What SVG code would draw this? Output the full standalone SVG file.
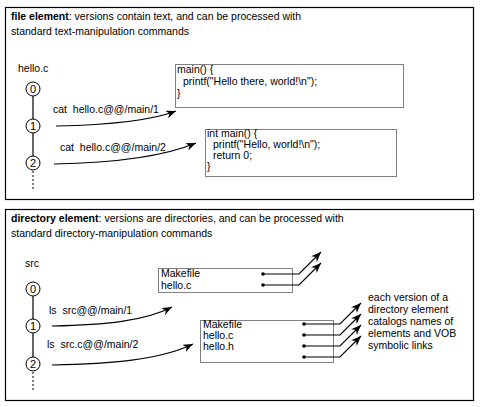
<svg xmlns="http://www.w3.org/2000/svg" width="480" height="407" viewBox="0 0 480 407">
<defs>
<marker id="ah" viewBox="0 0 10 8" refX="10" refY="4" markerWidth="10" markerHeight="8" markerUnits="userSpaceOnUse" orient="auto">
<path d="M0,0 L10,4 L0,8 L3,4 Z" fill="#000"/>
</marker>
</defs>
<style>
text{font-family:"Liberation Sans",Arial,sans-serif;font-size:10.5px;fill:#000}
.hd{font-size:10.5px}
.b{font-weight:bold}
.code{font-size:10.5px}
.panel{fill:#fff;stroke:#000;stroke-width:1.2}
.box{fill:none;stroke:#000;stroke-width:1;stroke-dasharray:1 1}
.ver{fill:#fff;stroke:#000;stroke-width:1}
.ln{fill:none;stroke:#000;stroke-width:1.2}
.arr{fill:none;stroke:#000;stroke-width:1.2;marker-end:url(#ah)}
.dot{fill:none;stroke:#000;stroke-width:1;stroke-dasharray:2 2}
.vt{font-size:11px;text-anchor:middle}
</style>
<rect width="480" height="407" fill="#fff"/>
<g id="panel-file">
<rect class="panel" x="5.5" y="7.5" width="468" height="192"/>
<text class="hd" x="11" y="20"><tspan class="b">file element</tspan>: versions contain text, and can be processed with</text>
<text class="hd" x="11" y="35">standard text-manipulation commands</text>
<text x="18" y="72">hello.c</text>
</g>
<g id="panel-dir">
<rect class="panel" x="5.5" y="209.5" width="468" height="191"/>
<text class="hd" x="11" y="222"><tspan class="b">directory element</tspan>: versions are directories, and can be processed with</text>
<text class="hd" x="11" y="237">standard directory-manipulation commands</text>
<text x="25" y="267">src</text>
</g>
<g id="connectors">
<line class="ln" x1="33" y1="96" x2="33" y2="156"/>
<line class="dot" x1="33" y1="171" x2="33" y2="191"/>
<path class="arr" d="M56,126 C110,125 150,121 176,111"/>
<path class="arr" d="M54,164 C110,163 160,158 196,143"/>
<line class="ln" x1="33" y1="296" x2="33" y2="357"/>
<line class="dot" x1="33" y1="372" x2="33" y2="392"/>
<path class="arr" d="M52,326 C105,325 145,321 172,307"/>
<path class="arr" d="M52,365 C110,364 160,360 193,344"/>
<g id="links1">
<circle cx="263" cy="274" r="1.8" fill="#000"/>
<circle cx="263" cy="285" r="1.8" fill="#000"/>
<path class="arr" d="M263,274 L299,274 L321,252"/>
<path class="arr" d="M263,285 L299,285 L321,263"/>
</g>
<g id="links2">
<circle cx="304" cy="324" r="1.8" fill="#000"/>
<circle cx="304" cy="335" r="1.8" fill="#000"/>
<circle cx="304" cy="346" r="1.8" fill="#000"/>
<circle cx="304" cy="357" r="1.8" fill="#000"/>
<path class="arr" d="M304,324 L340,324 L361,303"/>
<path class="arr" d="M304,335 L340,335 L361,314"/>
<path class="arr" d="M304,346 L340,346 L361,325"/>
<path class="arr" d="M304,357 L340,357 L361,336"/>
</g>
</g>
<g id="v-file-0"><circle class="ver" cx="33" cy="89" r="7"/><text class="vt" x="33" y="93">0</text></g>
<g id="v-file-1"><circle class="ver" cx="33" cy="126" r="7"/><text class="vt" x="33" y="130">1</text></g>
<g id="v-file-2"><circle class="ver" cx="33" cy="163" r="7"/><text class="vt" x="33" y="167">2</text></g>
<g id="lbl-file-1"><text x="53" y="113" xml:space="preserve">cat  hello.c@@/main/1</text></g>
<g id="lbl-file-2"><text x="60" y="151" xml:space="preserve">cat  hello.c@@/main/2</text></g>
<g id="box-file-1">
<rect class="box" x="175.5" y="64.5" width="228" height="43"/>
<text class="code" x="177" y="73">main() {</text>
<text class="code" x="183" y="85">printf("Hello there, world!\n");</text>
<text class="code" x="177" y="97">}</text>
</g>
<g id="box-file-2">
<rect class="box" x="205.5" y="129.5" width="191" height="47"/>
<text class="code" x="207" y="137">int main() {</text>
<text class="code" x="213" y="148">printf("Hello, world!\n");</text>
<text class="code" x="213" y="159">return 0;</text>
<text class="code" x="207" y="170">}</text>
</g>
<g id="v-dir-0"><circle class="ver" cx="33" cy="289" r="7"/><text class="vt" x="33" y="293">0</text></g>
<g id="v-dir-1"><circle class="ver" cx="33" cy="326" r="7"/><text class="vt" x="33" y="330">1</text></g>
<g id="v-dir-2"><circle class="ver" cx="33" cy="364" r="7"/><text class="vt" x="33" y="368">2</text></g>
<g id="lbl-dir-1"><text x="49" y="314" xml:space="preserve">ls  src@@/main/1</text></g>
<g id="lbl-dir-2"><text x="47" y="348" xml:space="preserve">ls  src.c@@/main/2</text></g>
<g id="box-dir-1">
<rect class="box" x="158.5" y="268.5" width="134" height="24"/>
<text class="code" x="161" y="277">Makefile</text>
<text class="code" x="161" y="289">hello.c</text>
</g>
<g id="box-dir-2">
<rect class="box" x="200.5" y="320.5" width="133" height="42"/>
<text class="code" x="203" y="328">Makefile</text>
<text class="code" x="203" y="339">hello.c</text>
<text class="code" x="203" y="350">hello.h</text>
</g>
<g id="note">
<text x="368" y="301">each version of a</text>
<text x="368" y="313">directory element</text>
<text x="368" y="325">catalogs names of</text>
<text x="368" y="337">elements and VOB</text>
<text x="368" y="349">symbolic links</text>
</g>
</svg>
